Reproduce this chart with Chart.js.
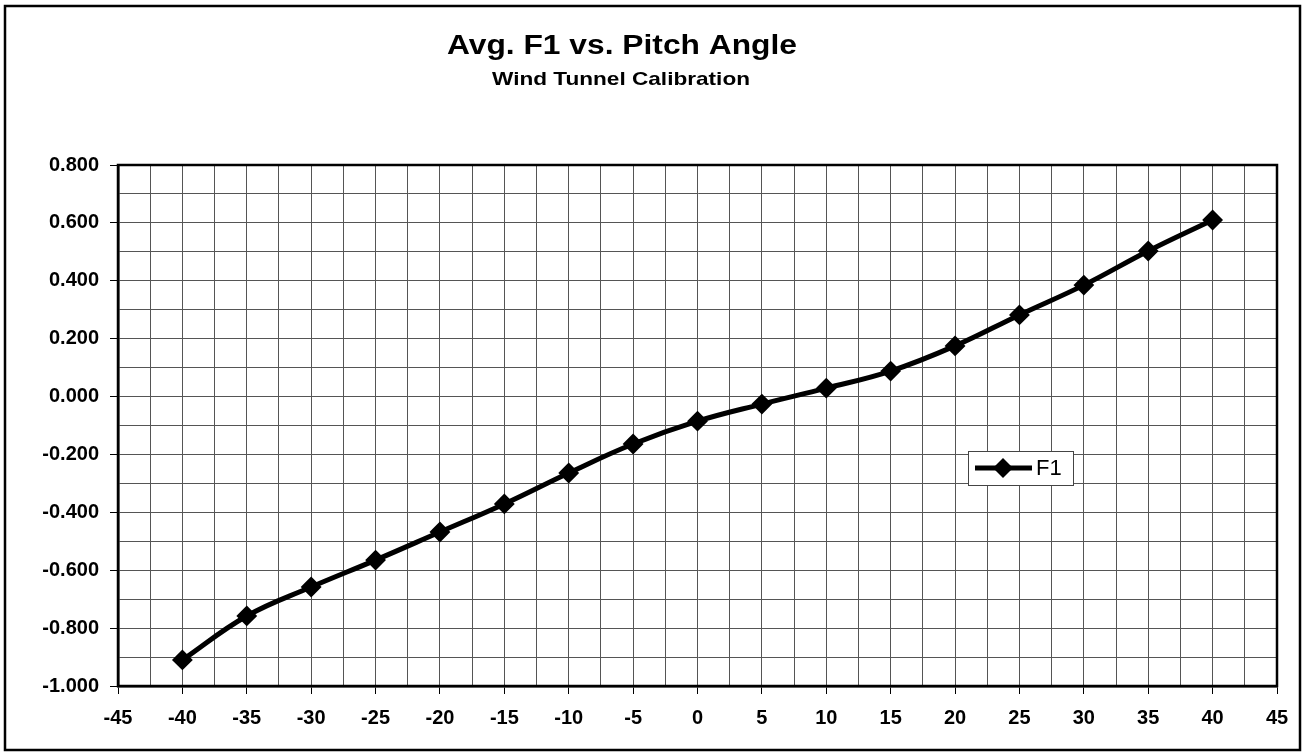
<!DOCTYPE html>
<html>
<head>
<meta charset="utf-8">
<title>Avg. F1 vs. Pitch Angle</title>
<script src="https://cdn.jsdelivr.net/npm/chart.js@4"></script>
<style>
  body { margin: 0; background: #fff; }
  #wrap { width: 1304px; height: 754px; position: relative; }
</style>
</head>
<body>
<div id="wrap"><canvas id="myChart" width="1304" height="754"></canvas></div>
<script>
// data
const pitchAngles = [-40, -35, -30, -25, -20, -15, -10, -5, 0, 5, 10, 15, 20, 25, 30, 35, 40];
const f1Values = [-0.910, -0.758, -0.658, -0.565, -0.468, -0.371, -0.264, -0.164, -0.085, -0.026, 0.029, 0.088, 0.175, 0.282, 0.385, 0.503, 0.610];
const seriesLabel = 'F1';
const chartTitle = 'Avg. F1 vs. Pitch Angle';
const chartSubtitle = 'Wind Tunnel Calibration';

const font = '"Liberation Sans", Arial, sans-serif';

const isMult = (v, step) => Math.abs(Math.round(v / step) * step - v) < 1e-6;

// text a bit wider than the font gives, like the original
function wideText(ctx, text, cx, y, w) {
  const m = ctx.measureText(text).width;
  ctx.save();
  ctx.translate(cx, y);
  ctx.scale(w / m, 1);
  ctx.fillText(text, 0, 0);
  ctx.restore();
}

// frame, titles, plot border and the legend box
const decorations = {
  id: 'decorations',
  beforeDraw(chart) {
    const ctx = chart.ctx;
    ctx.save();
    ctx.fillStyle = '#fff';
    ctx.fillRect(0, 0, chart.width, chart.height);
    ctx.restore();
  },
  afterDraw(chart) {
    const ctx = chart.ctx;
    const a = chart.chartArea;
    ctx.save();
    // outer frame
    ctx.strokeStyle = '#000';
    ctx.lineWidth = 2.5;
    ctx.strokeRect(5, 6, chart.width - 9, chart.height - 10);
    // plot border
    ctx.strokeRect(a.left, a.top, a.right - a.left, a.bottom - a.top);
    // titles
    ctx.fillStyle = '#000';
    ctx.textAlign = 'center';
    ctx.textBaseline = 'alphabetic';
    ctx.font = 'bold 27px ' + font;
    wideText(ctx, chartTitle, 622, 54, 350);
    ctx.font = 'bold 19px ' + font;
    wideText(ctx, chartSubtitle, 621, 85, 258);
    // legend
    const lx = a.left + 850, ly = a.top + 286;
    ctx.fillStyle = '#fff';
    ctx.fillRect(lx, ly, 105, 34);
    ctx.strokeStyle = '#444';
    ctx.lineWidth = 1;
    ctx.strokeRect(lx + 0.5, ly + 0.5, 105, 34);
    ctx.strokeStyle = '#000';
    ctx.lineWidth = 5;
    ctx.beginPath();
    ctx.moveTo(lx + 7, ly + 17);
    ctx.lineTo(lx + 64, ly + 17);
    ctx.stroke();
    ctx.fillStyle = '#000';
    ctx.beginPath();
    ctx.moveTo(lx + 35, ly + 7);
    ctx.lineTo(lx + 45, ly + 17);
    ctx.lineTo(lx + 35, ly + 27);
    ctx.lineTo(lx + 25, ly + 17);
    ctx.closePath();
    ctx.fill();
    ctx.font = '22px ' + font;
    ctx.textAlign = 'left';
    ctx.textBaseline = 'middle';
    ctx.fillText(seriesLabel, lx + 68, ly + 18);
    ctx.restore();
  }
};

new Chart(document.getElementById('myChart'), {
  type: 'line',
  data: {
    datasets: [{
      label: seriesLabel,
      data: pitchAngles.map((x, i) => ({ x: x, y: f1Values[i] })),
      borderColor: '#000',
      backgroundColor: '#000',
      borderWidth: 5,
      tension: 0.4,
      pointStyle: 'rectRot',
      pointRadius: 9,
      pointBorderWidth: 2,
      pointBackgroundColor: '#000',
      pointBorderColor: '#000'
    }]
  },
  options: {
    responsive: false,
    animation: false,
    layout: { padding: { left: 0, right: 27, top: 165, bottom: 0 } },
    plugins: {
      legend: { display: false },
      tooltip: { enabled: false }
    },
    scales: {
      x: {
        type: 'linear',
        min: -45,
        max: 45,
        afterFit(scale) { scale.height = 68; },
        afterBuildTicks(scale) {
          const t = [];
          for (let v = -45; v <= 45.001; v += 2.5) t.push({ value: v });
          scale.ticks = t;
        },
        ticks: {
          autoSkip: false,
          maxRotation: 0,
          padding: 12,
          color: '#000',
          font: { family: font, size: 20, weight: 'bold' },
          callback: v => isMult(v, 5) ? String(v) : ''
        },
        grid: {
          color: '#555',
          lineWidth: 1,
          tickLength: 8,
          tickColor: c => isMult(c.tick.value, 5) ? '#000' : 'rgba(0,0,0,0)'
        },
        border: { color: '#000', width: 2.5 }
      },
      y: {
        min: -1,
        max: 0.8,
        afterFit(scale) { scale.width = 118; },
        afterBuildTicks(scale) {
          const t = [];
          for (let k = 0; k <= 18; k++) t.push({ value: -1 + k * 0.1 });
          scale.ticks = t;
        },
        ticks: {
          autoSkip: false,
          padding: 11,
          color: '#000',
          font: { family: font, size: 20, weight: 'bold' },
          callback: v => isMult(v, 0.2) ? (Math.abs(v) < 1e-9 ? 0 : v).toFixed(3) : ''
        },
        grid: {
          color: '#555',
          lineWidth: 1,
          tickLength: 8,
          tickColor: c => isMult(c.tick.value, 0.2) ? '#000' : 'rgba(0,0,0,0)'
        },
        border: { color: '#000', width: 2.5 }
      }
    }
  },
  plugins: [decorations]
});
</script>
</body>
</html>
